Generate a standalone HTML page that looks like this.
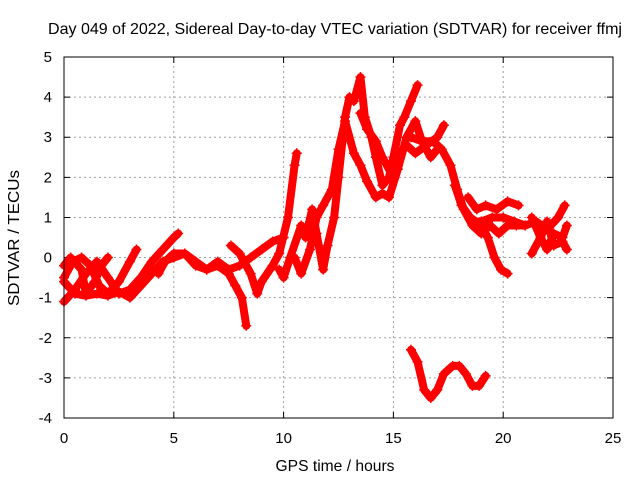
<!DOCTYPE html>
<html><head><meta charset="utf-8"><style>
body{margin:0;background:#fff}
svg{display:block;font-family:"Liberation Sans",sans-serif}
</style></head><body>
<svg id="c" width="640" height="480" viewBox="0 0 640 480">
<text x="335" y="34" font-size="16" text-anchor="middle" textLength="574" lengthAdjust="spacingAndGlyphs">Day 049 of 2022, Sidereal Day-to-day VTEC variation (SDTVAR) for receiver ffmj</text>
<text transform="translate(19,238) rotate(-90)" font-size="16" text-anchor="middle" textLength="136" lengthAdjust="spacingAndGlyphs">SDTVAR / TECUs</text>
<text x="335" y="471" font-size="16" text-anchor="middle" textLength="119" lengthAdjust="spacingAndGlyphs">GPS time / hours</text>
<g id="grid"></g>
<g id="ticks"></g>
<g id="series"></g>
<rect x="64" y="57" width="549" height="361" fill="none" stroke="#000" stroke-width="1"/>
</svg>
<script>
const xTicks=[0,5,10,15,20,25];
const yTicks=[-4,-3,-2,-1,0,1,2,3,4,5];
const trackA=[[0,-1.1],[0.5,-0.8],[1,-0.4],[1.5,-0.1],[2,-0.5],[2.5,-0.9],[3,-0.8],[3.5,-0.5],[4,-0.1],[4.5,0.2],[5,0.5],[5.2,0.6]];
const trackB=[[0,-0.5],[0.4,-0.1],[0.8,0],[1.2,-0.2],[1.6,-0.7],[2,-0.9],[2.5,-0.6],[3,-0.1],[3.3,0.2]];
const trackC=[[0,-0.6],[0.5,-0.9],[1,-0.95],[1.5,-0.9],[2,-0.95],[2.5,-0.85],[3,-1.0],[3.5,-0.7],[4,-0.4],[4.5,-0.1],[5,0],[5.5,0.1],[6,-0.2],[6.5,-0.3],[7,-0.2],[7.5,-0.4],[7.8,-0.7],[8.1,-1.0],[8.3,-1.7]];
const trackD=[[0,-0.2],[0.3,0],[0.8,-0.3],[1.0,-0.9],[1.4,-0.6],[1.7,-0.2],[2.0,0.0]];
const trackE=[[4.3,-0.4],[4.6,-0.1],[5,0.1],[5.5,0.1],[6,-0.1],[6.5,-0.3],[7,-0.1],[7.5,-0.3],[8,-0.2],[8.5,0],[9,0.2],[9.5,0.4],[10,0.5]];
const trackF=[[7.6,0.3],[8,0.1],[8.5,-0.4],[8.8,-0.9],[9,-0.6],[9.5,-0.2],[9.8,0.1],[10.2,1.0],[10.5,2.3],[10.6,2.6]];
const trackG=[[9.8,-0.3],[10,-0.5],[10.3,0],[10.8,0.8],[11,0.5],[11.3,1.2],[11.5,0.6],[11.8,-0.3],[12,0.3],[12.3,1.0],[12.5,2.0],[12.8,3.5],[13,4.0],[13.2,3.9],[13.5,4.5],[13.7,3.5],[14,3.0],[14.2,2.5],[14.5,1.8],[14.8,2.0],[15,2.5],[15.3,3.3],[15.5,3.5],[15.8,3.9],[16.1,4.3]];
const trackH=[[10.5,0],[10.8,-0.4],[11.2,0.2],[11.5,1.0],[11.8,1.3],[12.2,1.7],[12.5,2.7],[12.8,3.4],[13.2,2.6],[13.5,2.3],[13.8,1.9],[14.2,1.5],[14.5,1.6],[14.8,1.5],[15.2,2.2],[15.6,3.0],[16,3.4],[16.3,2.9],[16.7,2.5],[17,2.7]];
const trackI=[[13.5,3.6],[13.8,3.2],[14.2,2.9],[14.5,2.5],[15,2.0],[15.3,2.6],[15.6,2.8],[16,2.6],[16.5,2.8],[17,3.0],[17.3,3.3]];
const trackJ=[[15.8,3.0],[16.3,2.9],[16.8,2.9],[17.2,2.7],[17.6,2.3],[17.9,1.7],[18.2,1.2],[18.6,0.8],[19,0.6],[19.4,0.8],[19.8,0.6],[20.2,0.8],[20.6,0.8],[21,0.8],[21.5,0.9],[22,0.7],[22.5,1.0],[22.8,1.3]];
const trackK=[[17.8,1.8],[18.1,1.3],[18.5,1.0],[19,0.8],[19.3,0.5],[19.6,0],[19.9,-0.3],[20.2,-0.4]];
const trackL=[[18.4,1.5],[18.8,1.2],[19.2,1.3],[19.7,1.2],[20.2,1.4],[20.7,1.3]];
const trackM=[[18.6,0.9],[19,0.9],[19.5,1.0],[20,1.0],[20.5,0.9],[21,0.8]];
const trackN=[[21.3,1.0],[21.7,0.5],[22,0.2],[22.3,0.6],[22.7,0.5],[22.9,0.8]];
const trackO=[[21.3,0.1],[21.7,0.5],[22,0.9],[22.3,0.3],[22.7,0.4],[22.9,0.2]];
const trackP=[[15.8,-2.3],[16.1,-2.6],[16.4,-3.3],[16.7,-3.5],[17,-3.3],[17.3,-2.9],[17.7,-2.7],[18,-2.7],[18.3,-2.9],[18.6,-3.2],[18.9,-3.2],[19.2,-2.95]];
const tracks=[trackA,trackB,trackC,trackD,trackE,trackF,trackG,trackH,trackI,trackJ,trackK,trackL,trackM,trackN,trackO,trackP];

const NS="http://www.w3.org/2000/svg";
const X0=64,X1=613,Y0=418,Y1=57,XMIN=0,XMAX=25,YMIN=-4,YMAX=5;
function xs(t){return X0+(t-XMIN)/(XMAX-XMIN)*(X1-X0);}
function ys(v){return Y0-(v-YMIN)/(YMAX-YMIN)*(Y0-Y1);}
function mk(tag,attrs,parent){const e=document.createElementNS(NS,tag);for(const k in attrs)e.setAttribute(k,attrs[k]);parent.appendChild(e);return e;}
const grid=document.getElementById('grid'),ticks=document.getElementById('ticks'),ser=document.getElementById('series');
xTicks.forEach(t=>{
  const x=xs(t);
  if(t>XMIN&&t<XMAX){const g=mk('line',{x1:x,x2:x,y1:Y0,y2:Y1,stroke:'#a0a0a0','stroke-dasharray':'2,3'},grid);
  
  }
  const tk=mk('path',{d:`M${x},${Y0}v-6M${x},${Y1}v6`,stroke:'#000'},ticks);
  
  
  const lb=mk('text',{x:x,y:443,'font-size':15,'text-anchor':'middle'},ticks);lb.textContent=t;
  
  
});
yTicks.forEach(v=>{
  const y=ys(v);
  if(v>YMIN&&v<YMAX){const g=mk('line',{x1:X0,x2:X1,y1:y,y2:y,stroke:'#a0a0a0','stroke-dasharray':'2,3'},grid);
  
  }
  const tk=mk('path',{d:`M${X0},${y}h6M${X1},${y}h-6`,stroke:'#000'},ticks);
  
  
  const lb=mk('text',{x:52,y:y+5,'font-size':15,'text-anchor':'end'},ticks);lb.textContent=v;
  
  
});
tracks.forEach((tr,i)=>{
  const pts=tr.map(p=>xs(p[0])+','+ys(p[1])).join(' ');
  const pl=mk('polyline',{points:pts,fill:'none',stroke:'#ff0000','stroke-width':8,'stroke-linejoin':'round','stroke-linecap':'round'},ser);
  
  
  tr.forEach(p=>{
    const x=xs(p[0]),y=ys(p[1]);
    const m=mk('path',{d:`M${x-5},${y}h10M${x},${y-5}v10`,stroke:'#ff0000','stroke-width':1.5},ser);
    
    
  });
});
</script>
</body></html>
